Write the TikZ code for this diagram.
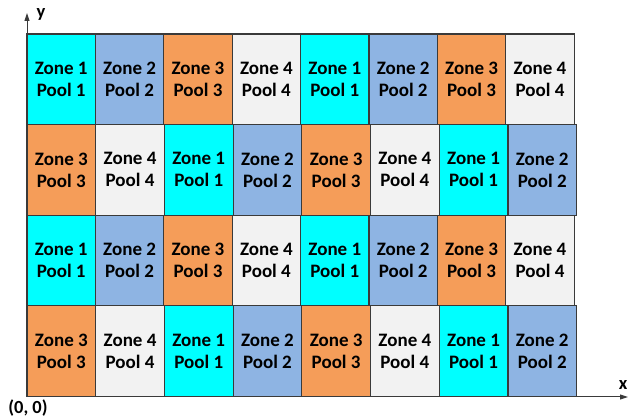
\documentclass[tikz,border=0pt]{standalone}
\usepackage{fontspec}
\setmainfont{Carlito}
\usetikzlibrary{arrows.meta}
\definecolor{zone1}{HTML}{00FFFF}
\definecolor{zone2}{HTML}{8EB4E3}
\definecolor{zone3}{HTML}{F59D59}
\definecolor{zone4}{HTML}{F2F2F2}
\definecolor{gridline}{HTML}{3A3A3A}
\tikzset{
  cell/.style={draw=gridline, line width=1.2pt, inner sep=0pt, minimum height=90.6pt,
    align=center, font=\bfseries\fontsize{19}{22}\selectfont},
  axislabel/.style={font=\bfseries\fontsize{18.5}{20}\selectfont, inner sep=0pt}
}
\begin{document}
\begin{tikzpicture}[x=1pt, y=1pt]
\useasboundingbox (0,0) rectangle (629,417);
% rows of cells, shifted by two zones every other row
\foreach \r/\w/\s in {1/68.4/0, 2/68.7/2, 3/68.4/0, 4/68.7/2}
  \foreach \c in {1,...,8}
  {
    \pgfmathtruncatemacro\z{mod(\c-1+\s,4)+1}
    \node[cell, minimum width=\w pt, fill=zone\z] (c\r\c) at ({27+(\c-0.5)*\w}, {383-(\r-0.5)*90.6}) {Zone \z\\Pool \z};
  }
% axes
\coordinate (o) at (27,20);
\coordinate (ytip) at (27,404);
\coordinate (xtip) at (628,20);
\draw[gridline, line width=1pt, -{Triangle[width=5pt,length=8pt]}] (o) -- (ytip);
\draw[gridline, line width=1pt, -{Triangle[width=5pt,length=8pt]}] (o) -- (xtip);
\node[axislabel] (ylab) at (41,403) {y};
\node[axislabel] (xlab) at (623,32) {x};
\node[axislabel] (olab) at (28,9) {(0, 0)};
\end{tikzpicture}
\end{document}
